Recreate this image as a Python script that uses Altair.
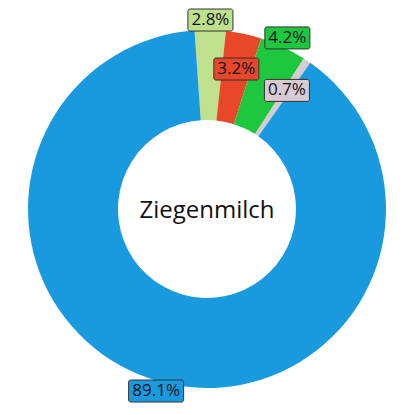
import math
import altair as alt
import pandas as pd

labels = ["2.8%", "3.2%", "4.2%", "0.7%", "89.1%"]
shares = [2.8, 3.2, 4.2, 0.7, 89.1]
colors = ["#bfe08c", "#e8472a", "#1ec83e", "#d9c9d1", "#1a9ade"]
center_title = "Ziegenmilch"

df = pd.DataFrame({"label": labels, "share": shares, "idx": list(range(len(labels)))})
total = sum(shares)

START = -4 * math.pi / 180
R_OUT, R_IN = 179, 89
R_LAB_OUT, R_LAB_IN = 189, 143
HALF = 199

color_scale = alt.Scale(domain=labels, range=colors)
xs = alt.Scale(domain=[-HALF, HALF], nice=False, zero=False)
ys = alt.Scale(domain=[-HALF, HALF], nice=False, zero=False)

base = alt.Chart(df)

arc = base.mark_arc(outerRadius=R_OUT, innerRadius=R_IN).encode(
    theta=alt.Theta("share:Q", stack=True,
                    scale=alt.Scale(domain=[0, total], range=[START, START + 2 * math.pi])),
    color=alt.Color("label:N", scale=color_scale, legend=None),
    order=alt.Order("idx:Q"),
)

lab = base.transform_window(
    cum="sum(share)", sort=[alt.SortField("idx")], frame=[None, 0]
).transform_joinaggregate(
    total="sum(share)"
).transform_calculate(
    mid=f"{START} + 2*PI*(datum.cum - datum.share/2)/datum.total",
    r=f"datum.idx % 2 == 0 ? {R_LAB_OUT} : {R_LAB_IN}",
).transform_calculate(
    lx="sin(datum.mid)*datum.r",
    ly="cos(datum.mid)*datum.r",
    hw="5*length(datum.label)+2.5",
).transform_calculate(
    x0="datum.lx - datum.hw",
    x1="datum.lx + datum.hw",
    y0="datum.ly - 11",
    y1="datum.ly + 11",
)

boxes = lab.mark_rect(stroke="#333333", strokeWidth=1, cornerRadius=2).encode(
    x=alt.X("x0:Q", scale=xs, axis=None),
    x2="x1:Q",
    y=alt.Y("y0:Q", scale=ys, axis=None),
    y2="y1:Q",
    color=alt.Color("label:N", scale=color_scale, legend=None),
)

texts = lab.mark_text(fontSize=17, font="Open Sans", color="#111122",
                      align="center", baseline="middle").encode(
    x=alt.X("lx:Q", scale=xs, axis=None),
    y=alt.Y("ly:Q", scale=ys, axis=None),
    text="label:N",
)

center = alt.Chart(pd.DataFrame({"t": [center_title]})).mark_text(
    fontSize=24, font="Open Sans", color="#111111", align="center", baseline="middle", dy=2
).encode(text="t:N")

chart = alt.layer(arc, boxes, texts, center).properties(
    width=398, height=398, padding=0, background="white"
).configure_view(stroke=None)

chart.save("out.html", embed_options={"renderer": "svg", "actions": False})
